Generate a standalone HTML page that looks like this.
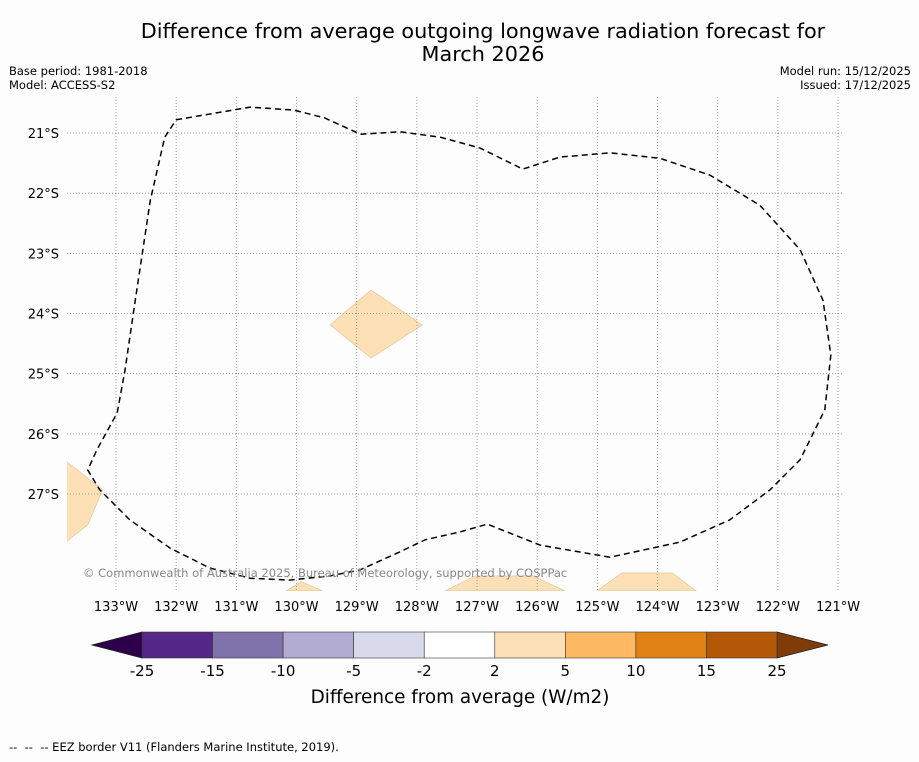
<!DOCTYPE html>
<html><head><meta charset="utf-8"><style>
body{margin:0;background:#fdfdfd;width:919px;height:758px;overflow:hidden;font-family:"DejaVu Sans","Liberation Sans",sans-serif}
</style></head><body>
<svg width="919" height="758" xmlns="http://www.w3.org/2000/svg" id="chart" font-family="DejaVu Sans, Liberation Sans, sans-serif">
<rect width="919" height="758" fill="#fdfdfd"/>
<text x="483" y="38" font-size="20.8" text-anchor="middle">Difference from average outgoing longwave radiation forecast for</text>
<text x="483" y="61" font-size="20.8" text-anchor="middle">March 2026</text>
<text x="9" y="75" font-size="11.5">Base period: 1981-2018</text>
<text x="9" y="89" font-size="11.5">Model: ACCESS-S2</text>
<text x="911" y="75" font-size="11.5" text-anchor="end">Model run: 15/12/2025</text>
<text x="911" y="89" font-size="11.5" text-anchor="end">Issued: 17/12/2025</text>
<g id="map"></g>
<g id="cbar"></g>
<text x="460" y="703" font-size="18.4" text-anchor="middle">Difference from average (W/m2)</text>
<text x="9" y="751" font-size="11.5">--&#160;&#160;--&#160;&#160;-- EEZ border V11 (Flanders Marine Institute, 2019).</text>
</svg>
<script>
const lonTicks=[133,132,131,130,129,128,127,126,125,124,123,122,121];
const latTicks=[21,22,23,24,25,26,27];
const cbarLevels=[-25,-15,-10,-5,-2,2,5,10,15,25];
const cbarColors=["#542788","#8073ac","#b2abd2","#d8daeb","#ffffff","#fee0b6","#fdb863","#e08214","#b35806"];
const eezLon=[132.00,130.77,130.04,129.53,128.94,128.28,127.61,126.95,126.24,125.62,124.79,123.96,123.13,122.30,121.63,121.25,121.12,121.22,121.63,122.13,122.80,123.63,124.79,125.95,126.83,127.28,127.86,128.28,128.94,129.44,130.11,130.77,131.44,132.10,132.77,133.27,133.47,133.32,132.98,132.85,132.68,132.43,132.19,132.00];
const eezLat=[20.78,20.57,20.62,20.75,21.02,20.98,21.07,21.25,21.60,21.40,21.33,21.42,21.70,22.20,22.94,23.78,24.69,25.60,26.43,26.93,27.43,27.80,28.05,27.85,27.50,27.63,27.76,27.96,28.26,28.36,28.43,28.40,28.23,27.90,27.43,26.93,26.60,26.27,25.65,24.94,23.78,22.12,21.07,20.78];
const patches=[
 {lon:[129.44,128.76,127.91,128.76],lat:[24.19,23.61,24.19,24.74]},
 {lon:[133.85,133.81,133.22,133.47,133.81,133.85],lat:[26.4,26.47,26.93,27.51,27.78,27.8]},
 {lon:[130.17,129.92,129.57],lat:[28.61,28.46,28.61]},
 {lon:[127.53,127.03,126.07,125.54],lat:[28.61,28.36,28.36,28.61]},
 {lon:[125.01,124.59,123.76,123.36],lat:[28.61,28.31,28.31,28.61]}
];
const NS="http://www.w3.org/2000/svg";
const X0=67,X1=843,Y0=97,Y1=591;
const x=lon=>116+(133-lon)*60.17;
const y=lat=>133+(lat-21)*60.17;
const map=document.getElementById('map');
function mk(t,a,p){const e=document.createElementNS(NS,t);for(const k in a)e.setAttribute(k,a[k]);p.appendChild(e);return e;}
const cp=mk('clipPath',{id:'clip'},map);mk('rect',{x:X0,y:Y0,width:X1-X0,height:Y1-Y0},cp);
const inner=mk('g',{'clip-path':'url(#clip)'},map);
patches.forEach((p,i)=>{const el=mk('polygon',{points:p.lon.map((l,j)=>x(l)+','+y(p.lat[j])).join(' '),fill:'#fee0b6',stroke:'#e8c9a0','stroke-width':0.8},inner);

});
lonTicks.forEach(l=>{const g=mk('line',{x1:x(l),x2:x(l),y1:Y0,y2:Y1,stroke:'#888','stroke-width':0.8,'stroke-dasharray':'1,2'},inner);


const t=mk('text',{x:x(l),y:611,'font-size':13,'text-anchor':'middle'},map);t.textContent=l+'°W';

});
latTicks.forEach(l=>{const g=mk('line',{x1:X0,x2:X1,y1:y(l),y2:y(l),stroke:'#888','stroke-width':0.8,'stroke-dasharray':'1,2'},inner);


const t=mk('text',{x:59,y:y(l)+5,'font-size':13,'text-anchor':'end'},map);t.textContent=l+'°S';

});
const eez=mk('polyline',{points:eezLon.map((l,j)=>x(l)+','+y(eezLat[j])).join(' '),fill:'none',stroke:'#000','stroke-width':1.5,'stroke-dasharray':'6,4','stroke-linejoin':'round'},inner);


const cr=mk('text',{x:83,y:577,'font-size':11.5,fill:'#888'},map);cr.textContent='© Commonwealth of Australia 2025, Bureau of Meteorology, supported by COSPPac';


const cb=document.getElementById('cbar');
const CB0=142,CB1=777,CBy=632,CBh=26,sw=(CB1-CB0)/cbarColors.length;
mk('polygon',{points:`${CB0},${CBy} 92,${CBy+CBh/2} ${CB0},${CBy+CBh}`,fill:'#2d004b',stroke:'#222','stroke-width':0.8},cb);
mk('polygon',{points:`${CB1},${CBy} 828,${CBy+CBh/2} ${CB1},${CBy+CBh}`,fill:'#7f3b08',stroke:'#222','stroke-width':0.8},cb);
cbarColors.forEach((c,i)=>{const r=mk('rect',{x:CB0+i*sw,y:CBy,width:sw,height:CBh,fill:c,stroke:'#333','stroke-width':0.6},cb);

});
cbarLevels.forEach((v,i)=>{const t=mk('text',{x:CB0+i*sw,y:676,'font-size':15,'text-anchor':'middle'},cb);t.textContent=v;

});
</script>
</body></html>
